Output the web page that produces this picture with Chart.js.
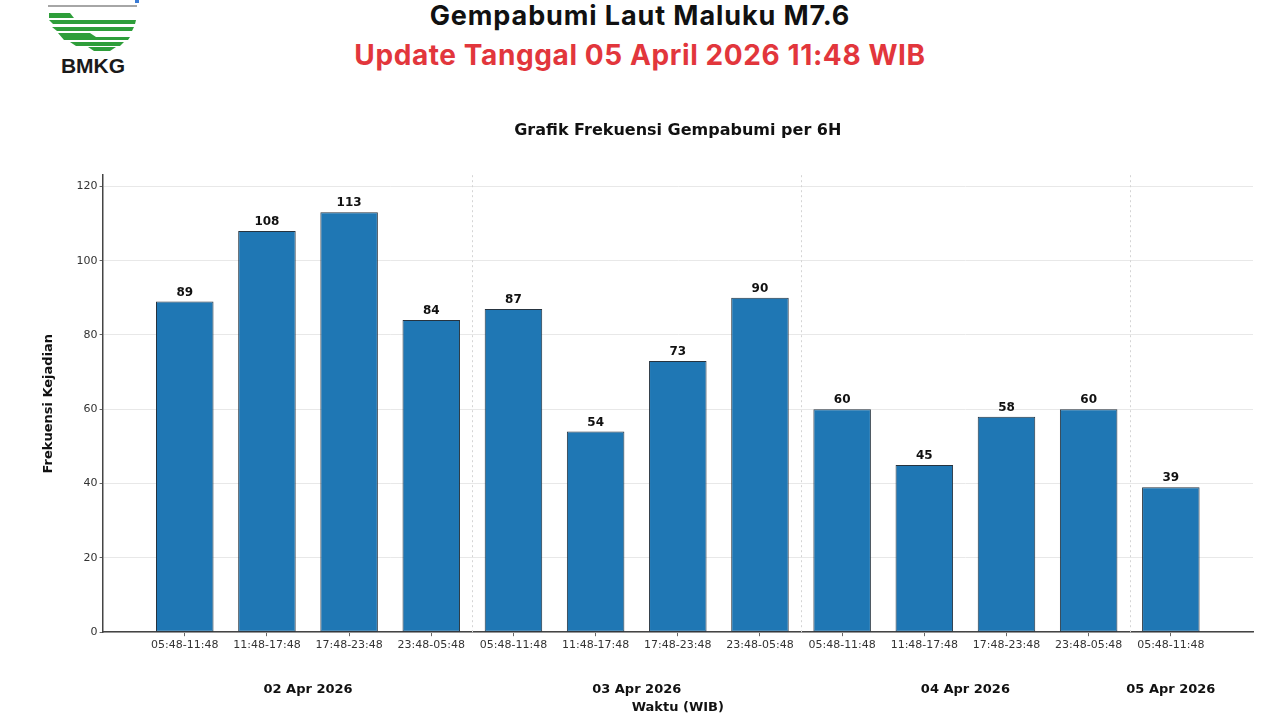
<!DOCTYPE html>
<html>
<head>
<meta charset="utf-8">
<script src="https://cdn.jsdelivr.net/npm/chart.js@4.4.1/dist/chart.umd.min.js"></script>
<style>
  html, body { margin: 0; padding: 0; background: #fff; }
  body { width: 1280px; height: 720px; position: relative; overflow: hidden; font-family: "DejaVu Sans", sans-serif; }
  #head1 { position: absolute; left: 0; width: 1280px; top: 0; text-align: center; font-family: Inter, sans-serif; font-weight: 700; font-size: 27px; letter-spacing: 0.9px; color: #111; line-height: 32px; }
  #head2 { position: absolute; left: 0; width: 1280px; top: 38px; text-align: center; font-family: Inter, sans-serif; font-weight: 700; font-size: 28px; letter-spacing: 0.6px; color: #e2363c; line-height: 34px; }
  #logo { position: absolute; left: 44px; top: 0; }
  #wrap { position: absolute; left: 0; top: 110px; width: 1280px; height: 610px; }
</style>
</head>
<body>
<svg id="logo" width="100" height="80" viewBox="0 0 100 80">
  <line x1="4" y1="6" x2="93" y2="6" stroke="#888" stroke-width="1.5"/>
  <rect x="91" y="0" width="4" height="3" fill="#3a7bd5"/>
  <g fill="#2e9e3a">
    <polygon points="5,13 26,13 30,18 5,18"/>
    <polygon points="5,20 92,20 91,24 9,24"/>
    <polygon points="8,27 90,27 88,31 13,31"/>
    <polygon points="14,33 46,33 52,37 86,37 84,40 20,40"/>
    <polygon points="26,42 80,42 76,46 32,46"/>
    <polygon points="44,47 72,47 66,51 50,51"/>
  </g>
  <text x="49" y="73" text-anchor="middle" font-family="Liberation Sans, Arial, sans-serif" font-weight="700" font-size="21" fill="#1a1a1a">BMKG</text>
</svg>
<div id="head1">Gempabumi Laut Maluku M7.6</div>
<div id="head2">Update Tanggal 05 April 2026 11:48 WIB</div>
<div id="wrap"><canvas id="chart"></canvas></div>
<script>
// 6-hour windows (WIB)
var slots = ['05:48-11:48', '11:48-17:48', '17:48-23:48', '23:48-05:48',
             '05:48-11:48', '11:48-17:48', '17:48-23:48', '23:48-05:48',
             '05:48-11:48', '11:48-17:48', '17:48-23:48', '23:48-05:48',
             '05:48-11:48'];
var counts = [89, 108, 113, 84, 87, 54, 73, 90, 60, 45, 58, 60, 39];
var dates = ['02 Apr 2026', '03 Apr 2026', '04 Apr 2026', '05 Apr 2026'];
var dateFirst = [0, 4, 8, 12];   // first slot of each date
var dateLast = [3, 7, 11, 12];   // last slot of each date
var yTicks = [0, 20, 40, 60, 80, 100, 120];

// one empty slot on each side, like the original
var labels = [''].concat(slots, ['']);
var values = [null].concat(counts, [null]);

var extras = {
    id: 'extras',
    beforeDatasetsDraw: function (chart) {
        var ctx = chart.ctx, x = chart.scales.x, a = chart.chartArea;
        ctx.save();
        ctx.strokeStyle = '#d4d4d4';
        ctx.lineWidth = 1;
        ctx.setLineDash([2, 3]);
        for (var i = 0; i < dateLast.length - 1; i++) {
            var px = Math.round(x.getPixelForValue(dateLast[i] + 1.5)) + 0.5;
            ctx.beginPath();
            ctx.moveTo(px, a.top);
            ctx.lineTo(px, a.bottom);
            ctx.stroke();
        }
        ctx.restore();
    },
    afterDatasetsDraw: function (chart) {
        var ctx = chart.ctx, x = chart.scales.x, a = chart.chartArea;
        var meta = chart.getDatasetMeta(0);
        ctx.save();
        ctx.fillStyle = '#111';
        ctx.font = 'bold 12px "DejaVu Sans"';
        ctx.textAlign = 'center';
        ctx.textBaseline = 'bottom';
        meta.data.forEach(function (bar, i) {
            if (values[i] == null) return;
            ctx.fillText(values[i], bar.x, bar.y - 3);
        });
        ctx.font = 'bold 13px "DejaVu Sans"';
        ctx.textBaseline = 'middle';
        for (var d = 0; d < dates.length; d++) {
            var cx = (x.getPixelForValue(dateFirst[d] + 1) + x.getPixelForValue(dateLast[d] + 1)) / 2;
            ctx.fillText(dates[d], cx, a.bottom + 57);
        }
        ctx.restore();
    }
};

new Chart(document.getElementById('chart'), {
    type: 'bar',
    data: {
        labels: labels,
        datasets: [{
            data: values,
            backgroundColor: '#1f77b4',
            borderColor: '#26333f',
            borderWidth: 1,
            borderSkipped: false,
            categoryPercentage: 1,
            barPercentage: 0.7
        }]
    },
    plugins: [extras],
    options: {
        responsive: true,
        maintainAspectRatio: false,
        animation: false,
        layout: { padding: { left: 30, right: 27, top: 0, bottom: 0 } },
        plugins: {
            legend: { display: false },
            tooltip: { enabled: false },
            title: {
                display: true,
                text: 'Grafik Frekuensi Gempabumi per 6H',
                fullSize: false,
                color: '#111',
                font: { family: 'DejaVu Sans', size: 16, weight: 'bold' },
                padding: { top: 11, bottom: 35 }
            }
        },
        scales: {
            x: {
                offset: false,
                border: { display: true, color: '#444', width: 1.5 },
                grid: {
                    offset: false,
                    drawOnChartArea: false,
                    drawTicks: true,
                    tickLength: 4,
                    tickColor: function (c) { return (c.index === 0 || c.index === labels.length - 1) ? 'rgba(0,0,0,0)' : '#666'; }
                },
                ticks: {
                    autoSkip: false,
                    maxRotation: 0,
                    padding: 2,
                    color: '#333',
                    font: { family: 'DejaVu Sans', size: 11 }
                },
                title: {
                    display: true,
                    text: 'Waktu (WIB)',
                    color: '#111',
                    font: { family: 'DejaVu Sans', size: 13, weight: 'bold' },
                    padding: { top: 46, bottom: 5 }
                }
            },
            y: {
                min: 0,
                max: 123,
                afterBuildTicks: function (s) { s.ticks = yTicks.map(function (v) { return { value: v }; }); },
                border: { display: true, color: '#444', width: 1.5 },
                grid: {
                    color: '#e8e8e8',
                    lineWidth: 1,
                    tickLength: 3,
                    tickColor: '#666',
                    drawTicks: true
                },
                ticks: {
                    padding: 2,
                    color: '#333',
                    font: { family: 'DejaVu Sans', size: 11 }
                },
                title: {
                    display: true,
                    text: 'Frekuensi Kejadian',
                    color: '#111',
                    font: { family: 'DejaVu Sans', size: 13, weight: 'bold' },
                    padding: { top: 11, bottom: 18 }
                }
            }
        }
    }
});
</script>
</body>
</html>
